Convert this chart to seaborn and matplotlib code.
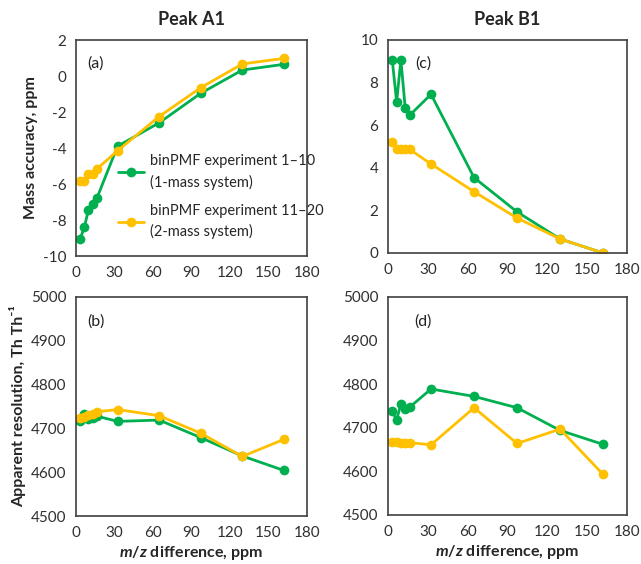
import numpy as np
import pandas as pd
import matplotlib
matplotlib.use("Agg")
import matplotlib.pyplot as plt
import seaborn as sns

# m/z difference (ppm) for each experiment
mz = [3.2, 6.5, 9.7, 13.0, 16.2, 32.4, 64.8, 97.2, 129.6, 162.0]

series_names = ["binPMF experiment 1\u201310\n(1-mass system)",
                "binPMF experiment 11\u201320\n(2-mass system)"]

# Peak A1
a1_acc_1 = [-9.06, -8.4, -7.44, -7.1, -6.8, -3.9, -2.6, -0.96, 0.33, 0.65]
a1_acc_2 = [-5.83, -5.83, -5.45, -5.45, -5.17, -4.15, -2.25, -0.65, 0.67, 0.98]
a1_res_1 = [4716, 4733, 4721, 4724, 4728, 4716, 4719, 4679, 4637, 4604]
a1_res_2 = [4724, 4727, 4730, 4733, 4738, 4743, 4729, 4689, 4636, 4675]

# Peak B1
b1_acc_1 = [9.06, 7.1, 9.06, 6.79, 6.46, 7.45, 3.54, 1.93, 0.66, 0.0]
b1_acc_2 = [5.2, 4.87, 4.87, 4.87, 4.87, 4.18, 2.88, 1.64, 0.66, 0.0]
b1_res_1 = [4738, 4718, 4755, 4744, 4747, 4789, 4772, 4746, 4694, 4662]
b1_res_2 = [4668, 4667, 4665, 4666, 4666, 4661, 4746, 4664, 4697, 4593]

green = "#00B050"
orange = "#FFC000"

sns.set_theme(style="white")
plt.rcParams["font.family"] = ["Lato", "DejaVu Sans"]
plt.rcParams["axes.unicode_minus"] = False
plt.rcParams["mathtext.fontset"] = "custom"
plt.rcParams["mathtext.it"] = "Lato:italic:bold"
plt.rcParams["mathtext.rm"] = "Lato:bold"


def long_df(s1, s2):
    return pd.DataFrame({
        "mz": mz + mz,
        "val": s1 + s2,
        "series": [series_names[0]] * len(mz) + [series_names[1]] * len(mz),
    })


fig = plt.figure(figsize=(6.41, 5.64), dpi=100)
W, H = 641, 564


def make_ax(l, r, t, b):
    return fig.add_axes([l / W, (H - b) / H, (r - l) / W, (b - t) / H])


ax_a = make_ax(76, 307, 40, 256)
ax_c = make_ax(388, 627, 40, 253)
ax_b = make_ax(76, 307, 297, 516)
ax_d = make_ax(388, 627, 297, 515)

panels = [
    (ax_a, a1_acc_1, a1_acc_2, (-10, 2), np.arange(-10, 3, 2), "(a)", 0.05),
    (ax_c, b1_acc_1, b1_acc_2, (0, 10), np.arange(0, 11, 2), "(c)", 0.115),
    (ax_b, a1_res_1, a1_res_2, (4500, 5000), np.arange(4500, 5001, 100), "(b)", 0.05),
    (ax_d, b1_res_1, b1_res_2, (4500, 5000), np.arange(4500, 5001, 100), "(d)", 0.11),
]

for ax, s1, s2, ylim, yticks, tag, tx in panels:
    sns.lineplot(data=long_df(s1, s2), x="mz", y="val", hue="series",
                 palette=[green, orange], marker="o", markersize=7,
                 markeredgewidth=0, linewidth=2, ax=ax, legend=(ax is ax_a))
    ax.set_xlim(0, 180)
    ax.set_xticks(np.arange(0, 181, 30))
    ax.set_ylim(*ylim)
    ax.set_yticks(yticks)
    ax.tick_params(length=0, labelsize=11, labelcolor="#303030", pad=7)
    for sp in ax.spines.values():
        sp.set_color("#404040")
        sp.set_linewidth(1.2)
    ax.set_xlabel("")
    ax.set_ylabel("")
    ax.text(tx, 0.87, tag, transform=ax.transAxes, fontsize=11.5, color="#222222")

ax_a.set_title("Peak A1", fontweight="bold", fontsize=13, pad=11)
ax_c.set_title("Peak B1", fontweight="bold", fontsize=13, pad=11)

ax_a.set_ylabel("Mass accuracy, ppm", fontweight="bold", fontsize=11.5)
ax_a.yaxis.set_label_coords(-0.165, 0.5)
ax_b.set_ylabel("Apparent resolution, Th Th\u207b\u00b9", fontweight="bold", fontsize=11.5)
ax_b.yaxis.set_label_coords(-0.215, 0.5)

for ax in (ax_b, ax_d):
    ax.set_xlabel("$m/z$ difference, ppm", fontweight="bold", fontsize=11.5, labelpad=3)

leg = ax_a.legend(loc="upper left", bbox_to_anchor=(0.18, 0.47), frameon=False,
                  fontsize=10.5, handlelength=1.8, handletextpad=0.4,
                  labelspacing=1.0, borderpad=0, borderaxespad=0)
for t in leg.get_texts():
    t.set_linespacing(1.5)

fig.savefig("out.png", dpi=100)
